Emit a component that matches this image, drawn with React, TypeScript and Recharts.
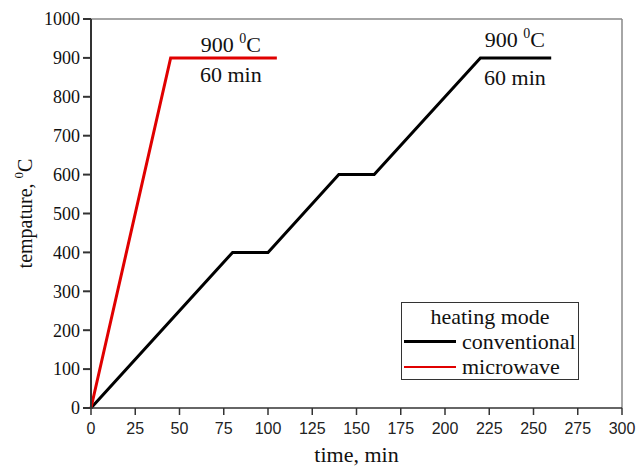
import React from "react";
import {
	LineChart,
	Line,
	XAxis,
	YAxis,
	ReferenceLine,
	ReferenceDot,
} from "recharts";

const conventionalTime = [0, 80, 100, 140, 160, 220, 260];
const conventionalTemp = [0, 400, 400, 600, 600, 900, 900];
const microwaveTime = [0, 45, 105];
const microwaveTemp = [0, 900, 900];
const xTicks = [0, 25, 50, 75, 100, 125, 150, 175, 200, 225, 250, 275, 300];
const yTicks = [0, 100, 200, 300, 400, 500, 600, 700, 800, 900, 1000];

const conventional = conventionalTime.map((t, i) => ({ t, temp: conventionalTemp[i] }));
const microwave = microwaveTime.map((t, i) => ({ t, temp: microwaveTemp[i] }));

const serif = "'Liberation Serif', 'Times New Roman', serif";
const sans = "'Liberation Sans', Arial, sans-serif";

// "900 °C" above the hold line, "60 min" below it
const HoldLabel = (props: any) => {
	const { viewBox, top = -6, bottom = 24 } = props;
	const x = viewBox.x;
	const y = viewBox.y;
	return (
		<g fontFamily={serif} fill="#111" textAnchor="middle">
			<text x={x} y={y + top} fontSize={22}>
				900 <tspan fontSize={14} dy={-9}>0</tspan>
				<tspan fontSize={22} dy={9}>C</tspan>
			</text>
			<text x={x} y={y + bottom} fontSize={22}>
				60 min
			</text>
		</g>
	);
};

const YTitle = (props: any) => {
	const { viewBox } = props;
	const cx = 32;
	const cy = viewBox.y + viewBox.height / 2;
	return (
		<text
			x={cx}
			y={cy}
			transform={`rotate(-90 ${cx} ${cy})`}
			textAnchor="middle"
			fontFamily={serif}
			fontSize={20}
			fill="#111"
		>
			tempature, <tspan fontSize={13} dy={-9}>0</tspan>
			<tspan fontSize={20} dy={9}>C</tspan>
		</text>
	);
};

const LegendBox = () => (
	<div
		style={{
			position: "absolute",
			left: 401,
			top: 302,
			width: 176,
			height: 76,
			border: "1px solid #333",
			background: "#fff",
			fontFamily: serif,
			fontSize: 22,
			color: "#111",
			lineHeight: "25px",
		}}
	>
		<div style={{ textAlign: "center", marginTop: 1 }}>heating mode</div>
		<div style={{ display: "flex", alignItems: "center" }}>
			<span style={{ width: 52, height: 3, background: "#000", marginLeft: 2, marginRight: 6 }} />
			conventional
		</div>
		<div style={{ display: "flex", alignItems: "center" }}>
			<span style={{ width: 52, height: 2, background: "#e00000", marginLeft: 2, marginRight: 6 }} />
			microwave
		</div>
	</div>
);

export default function App() {
	return (
		<div style={{ position: "absolute", left: 0, top: 0, width: 637, height: 466, background: "#fff" }}>
			<LineChart
				width={637}
				height={466}
				margin={{ top: 19, right: 15, bottom: 28, left: 31 }}
			>
				<XAxis
					type="number"
					dataKey="t"
					domain={[0, 300]}
					ticks={xTicks}
					interval={0}
					allowDuplicatedCategory={false}
					height={30}
					stroke="#333"
					strokeWidth={1.5}
					tickSize={7}
					tickMargin={8}
					tick={{ fill: "#222", fontSize: 16, fontFamily: sans }}
					label={{
						value: "time, min",
						position: "insideBottom",
						offset: -24,
						style: { fontFamily: serif, fontSize: 22, fill: "#111" },
					}}
				/>
				<YAxis
					type="number"
					dataKey="temp"
					domain={[0, 1000]}
					ticks={yTicks}
					interval={0}
					width={60}
					stroke="#333"
					strokeWidth={2}
					tickSize={8}
					tickMargin={3}
					tick={{ fill: "#111", fontSize: 18, fontFamily: serif }}
					label={<YTitle />}
				/>
				<ReferenceLine y={1000} stroke="#888" strokeWidth={1.5} />
				<ReferenceLine x={300} stroke="#888" strokeWidth={1.5} />
				<Line
					data={conventional}
					dataKey="temp"
					type="linear"
					stroke="#000"
					strokeWidth={3}
					dot={false}
					isAnimationActive={false}
				/>
				<Line
					data={microwave}
					dataKey="temp"
					type="linear"
					stroke="#e00000"
					strokeWidth={3}
					dot={false}
					isAnimationActive={false}
				/>
				<ReferenceDot x={79} y={900} r={0} stroke="none" label={<HoldLabel top={-6} bottom={24} />} />
				<ReferenceDot x={239.5} y={900} r={0} stroke="none" label={<HoldLabel top={-11} bottom={27} />} />
			</LineChart>
			<LegendBox />
		</div>
	);
}
